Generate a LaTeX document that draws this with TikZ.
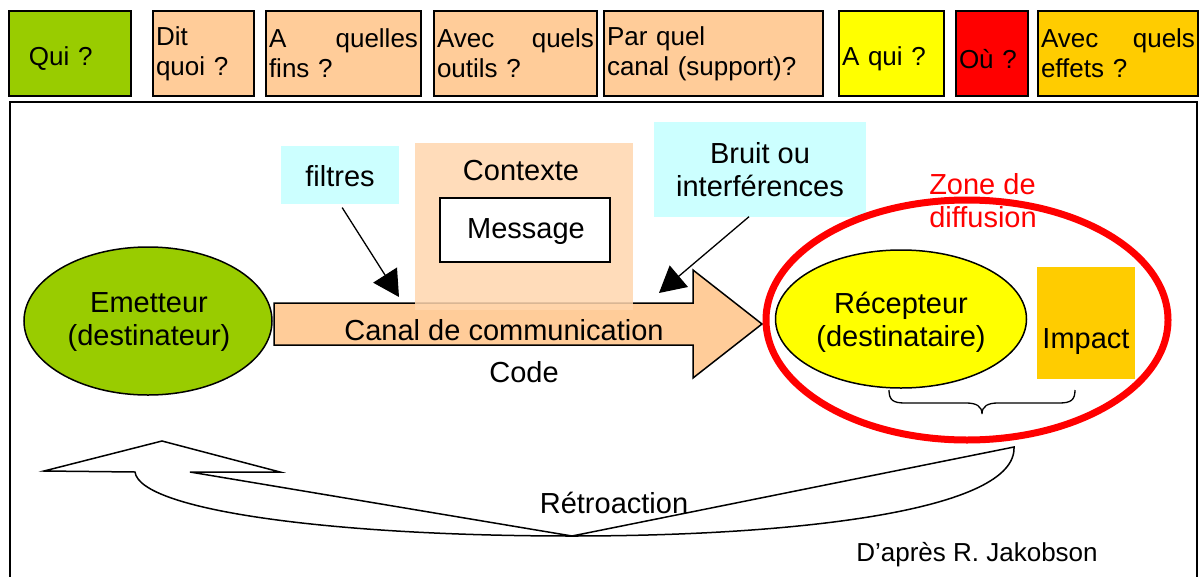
\documentclass[tikz,border=0pt]{standalone}
\usepackage{fontspec}
\setmainfont{Liberation Sans}
\usetikzlibrary{arrows.meta,shapes.geometric}
\definecolor{cgreen}{HTML}{99CC00}
\definecolor{cpeach}{HTML}{FFCC99}
\definecolor{cctx}{HTML}{FFD6AE}
\definecolor{ccyan}{HTML}{CCFFFF}
\definecolor{cyel}{HTML}{FFFF00}
\definecolor{cred}{HTML}{FF0000}
\definecolor{corange}{HTML}{FFCC00}
\begin{document}
\begin{tikzpicture}[x=1pt,y=-1pt,
  qbox/.style={draw=black,line width=2pt,anchor=north west,minimum height=85pt,
    align=left,inner xsep=3pt,inner ysep=0pt,font=\fontsize{26}{30}\selectfont},
  big/.style={font=\fontsize{29}{33}\selectfont,inner sep=0pt},
  small/.style={font=\fontsize{26}{31}\selectfont,inner sep=0pt},
  pointer/.style={line width=1.3pt,-{Triangle[length=26pt,width=28pt]}},
  outline/.style={draw=black,line width=1.5pt}]
\useasboundingbox (0,0) rectangle (1200,576);
% top question boxes
\node[qbox,fill=cgreen,text width=116pt] (qui) at (8,10) {\hspace*{17pt}\raisebox{-5pt}[\height][\depth]{Qui ?}};
\node[qbox,fill=cpeach,text width=95pt] (dit) at (152,10) {Dit\\quoi ?};
\node[qbox,fill=cpeach,text width=149pt] (fins) at (265,10) {A\hfill quelles\\fins ?};
\node[qbox,fill=cpeach,text width=157pt] (outils) at (433,10) {Avec\hfill quels\\outils ?};
\node[qbox,fill=cpeach,text width=213pt] (canalq) at (603,10) {Par quel\\canal (support)?};
\node[qbox,fill=cyel,text width=99pt] (aqui) at (838,10) {\raisebox{-5pt}[\height][\depth]{A qui ?}};
\node[qbox,fill=cred,text width=66pt] (ou) at (955,10) {\raisebox{-6pt}[\height][\depth]{Où ?}};
\node[qbox,fill=corange,text width=154pt] (effets) at (1037,10) {Avec\hfill quels\\effets ?};
% frame
\draw[line width=1.5pt] (10,102) rectangle (1197,600);
% channel arrow
\draw[outline,fill=cpeach] (274,303) -- (693,303) -- (693,270) -- (762,324)
  -- (693,378) -- (693,345) -- (274,345) -- cycle;
% context
\node[fill=cctx,fill opacity=0.85,minimum width=218pt,minimum height=167pt,inner sep=0pt] (ctx) at (524,226.5) {};
\node[big] (ctxlabel) at (521,171) {Contexte};
\node[outline,fill=white,minimum width=170pt,minimum height=64pt,inner sep=0pt] (msg) at (525,230) {};
\node[big] (msglabel) at (526,232) {Message};
% filters and noise
\node[fill=ccyan,minimum width=118pt,minimum height=58pt,inner sep=0pt] (filtres) at (340,175) {};
\node[big] (filtreslabel) at (340,176) {filtres};
\node[fill=ccyan,minimum width=212pt,minimum height=95pt,inner sep=0pt] (bruit) at (760,169) {};
\node[big,align=center] (bruitlabel) at (760,170) {Bruit ou\\interférences};
\coordinate (ftip) at (399,297);
\coordinate (btip) at (659,293);
\draw[pointer,shorten <=4pt] (filtres.south) -- (ftip);
\draw[pointer] ([xshift=-11pt]bruit.south) -- (btip);
% channel texts
\node[big] (canal) at (504,330) {Canal de communication};
\node[big] (code) at (524,372) {Code};
% emitter
\node[ellipse,outline,fill=cgreen,minimum width=248pt,minimum height=148pt] (emet) at (148,321) {};
\node[big,align=center] (emetlabel) at (149,322) {Emetteur\\(destinateur)};
% receiver zone
\node[ellipse,draw=cred,line width=7pt,minimum width=402pt,minimum height=240pt] (zone) at (967,320) {};
\node[big,align=left,text=cred] (zonelabel) at (983,201) {Zone de\\diffusion};
\node[ellipse,outline,fill=cyel,minimum width=251pt,minimum height=138pt] (recep) at (901,319) {};
\node[big,align=center] (receplabel) at (901,322) {Récepteur\\(destinataire)};
\node[fill=corange,minimum width=98pt,minimum height=112pt,inner sep=0pt] (impact) at (1086,323) {};
\node[big] (impactlabel) at (1086,342) {Impact};
% brace
\draw[line width=1.3pt] (889,390) .. controls (889,400) and (893,403) .. (905,403) -- (966,403)
  .. controls (976,403) and (982,406) .. (982,414)
  .. controls (982,406) and (988,403) .. (998,403) -- (1059,403)
  .. controls (1071,403) and (1075,400) .. (1075,390);
% feedback arrow
\draw[line width=1.5pt,line join=miter] (44,471) -- (162,441) -- (280,472) -- (190,472) -- (572,536) -- (1014,447)
  .. controls (1017,510) and (800,536) .. (572,536)
  .. controls (330,536) and (140,510) .. (135,472) -- cycle;
\node[big] (retro) at (614,503) {Rétroaction};
\node[small] (source) at (977,555) {D’après R. Jakobson};
\end{tikzpicture}
\end{document}
